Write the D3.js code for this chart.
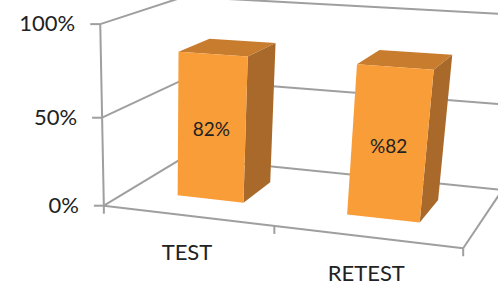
<!DOCTYPE html>
<html>
<head>
<meta charset="utf-8">
<script src="https://cdn.jsdelivr.net/npm/d3@7"></script>
<style>
  body { margin: 0; background: #fff; }
  svg text { font-family: Lato, "Open Sans", sans-serif; fill: #222; }
</style>
</head>
<body>
<div id="chart"></div>
<script>
var categories = ["TEST", "RETEST"];
var values = [82, 82];
var valueLabels = ["82%", "%82"];
var yTicks = [0, 50, 100];
var yTickLabels = ["0%", "50%", "100%"];

var width = 498, height = 289;

// world space: u = category position (0..2), v = value (0..1), w = depth (0..1)
// anchors pin the corners of the 3D frame to the page, the projection is fitted from them
var frameAnchors = [
  [[0, 0, 0], [104.7, 204.5]],
  [[0, 0.5, 0], [101.3, 117.3]],
  [[0, 1, 0], [99.7, 25]],
  [[1, 0, 0], [274.7, 226]],
  [[2, 0, 0], [463.3, 249]],
  [[0, 0, 1], [182, 159.6]],
  [[0, 0.5, 1], [185.4, 77.6]],
  [[0, 1, 1], [184.6, -3.1]],
  [[2, 0, 1], [502, 189.3]]
];

var barDepth = [0.3, 0.7];

function fitProjection(pts) {
  var cx = 250, cy = 125, s = 200;
  var rows = [], rhs = [];
  pts.forEach(function(p) {
    var X = p[0][0], Y = p[0][1], Z = p[0][2];
    var x = (p[1][0] - cx) / s, y = (p[1][1] - cy) / s;
    rows.push([X, Y, Z, 1, 0, 0, 0, 0, -x * X, -x * Y, -x * Z]); rhs.push(x);
    rows.push([0, 0, 0, 0, X, Y, Z, 1, -y * X, -y * Y, -y * Z]); rhs.push(y);
  });
  var n = 11, A = [], b = [];
  for (var i = 0; i < n; i++) {
    A.push([]);
    b.push(0);
    for (var j = 0; j < n; j++) {
      var sum = 0;
      for (var k = 0; k < rows.length; k++) sum += rows[k][i] * rows[k][j];
      A[i].push(sum);
    }
    for (var k = 0; k < rows.length; k++) b[i] += rows[k][i] * rhs[k];
  }
  // gaussian elimination
  for (var c = 0; c < n; c++) {
    var piv = c;
    for (var r = c + 1; r < n; r++) if (Math.abs(A[r][c]) > Math.abs(A[piv][c])) piv = r;
    var t = A[c]; A[c] = A[piv]; A[piv] = t;
    var tb = b[c]; b[c] = b[piv]; b[piv] = tb;
    for (var r = c + 1; r < n; r++) {
      var f = A[r][c] / A[c][c];
      for (var j = c; j < n; j++) A[r][j] -= f * A[c][j];
      b[r] -= f * b[c];
    }
  }
  var m = new Array(n);
  for (var r = n - 1; r >= 0; r--) {
    var sum = b[r];
    for (var j = r + 1; j < n; j++) sum -= A[r][j] * m[j];
    m[r] = sum / A[r][r];
  }
  return function(u, v, w) {
    var d = m[8] * u + m[9] * v + m[10] * w + 1;
    return [cx + s * (m[0] * u + m[1] * v + m[2] * w + m[3]) / d,
            cy + s * (m[4] * u + m[5] * v + m[6] * w + m[7]) / d];
  };
}

var project = fitProjection(frameAnchors);

var xScale = d3.scaleBand()
  .domain(categories)
  .range([0, 2])
  .paddingInner(0.6)
  .paddingOuter(0.3);

var yScale = d3.scaleLinear()
  .domain([0, 100])
  .range([0, 1]);

var uMax = 2;

var svg = d3.select("#chart").append("svg")
  .attr("width", width)
  .attr("height", height);

var line = d3.line();

function seg(a, b) {
  return line([project(a[0], a[1], a[2]), project(b[0], b[1], b[2])]);
}

var grid = svg.append("g")
  .attr("fill", "none")
  .attr("stroke", "#9f9f9f")
  .attr("stroke-width", 2);

// side wall and back wall gridlines
yTicks.forEach(function(t) {
  var v = yScale(t);
  grid.append("path").attr("d", seg([0, v, 0], [0, v, 1]));
  grid.append("path").attr("d", seg([0, v, 1], [uMax, v, 1]));
});

// floor front and right edges
grid.append("path").attr("d", seg([0, 0, 0], [uMax, 0, 0]));
grid.append("path").attr("d", seg([uMax, 0, 0], [uMax, 0, 1]));

// value axis
grid.append("path").attr("d", seg([0, 0, 0], [0, 1, 0]));
yTicks.forEach(function(t) {
  var p = project(0, yScale(t), 0);
  grid.append("path").attr("d", line([[p[0] - 10, p[1]], p]));
});

// category ticks
d3.range(categories.length + 1).forEach(function(i) {
  var p = project(i * xScale.step(), 0, 0);
  grid.append("path").attr("d", line([p, [p[0], p[1] + 8]]));
});

// value axis labels
svg.append("g").selectAll("text")
  .data(yTicks)
  .enter().append("text")
  .attr("x", function(d) { return project(0, yScale(d), 0)[0] - 25; })
  .attr("y", function(d) { return project(0, yScale(d), 0)[1] + 1.5; })
  .attr("text-anchor", "end")
  .attr("dominant-baseline", "middle")
  .attr("font-size", 22)
  .text(function(d, i) { return yTickLabels[i]; });

// category labels
svg.append("g").selectAll("text")
  .data(categories)
  .enter().append("text")
  .attr("x", function(d) { return project(xScale(d) + xScale.bandwidth() / 2, 0, 0)[0]; })
  .attr("y", function(d) { return project(xScale(d) + xScale.bandwidth() / 2, 0, 0)[1] + 39; })
  .attr("text-anchor", "middle")
  .attr("dominant-baseline", "middle")
  .attr("font-size", 22)
  .text(function(d) { return d; });

// bars
function poly(pts) {
  return line(pts.map(function(p) { return project(p[0], p[1], p[2]); })) + "Z";
}

var bars = svg.append("g").selectAll("g")
  .data(categories)
  .enter().append("g");

bars.each(function(d, i) {
  var g = d3.select(this);
  var u0 = xScale(d), u1 = u0 + xScale.bandwidth();
  var v1 = yScale(values[i]);
  var w0 = barDepth[0], w1 = barDepth[1];

  g.append("path")
    .attr("fill", "#a8692a")
    .attr("d", poly([[u1, 0, w0], [u1, 0, w1], [u1, v1, w1], [u1, v1, w0]]));
  g.append("path")
    .attr("fill", "#c87c2e")
    .attr("d", poly([[u0, v1, w0], [u1, v1, w0], [u1, v1, w1], [u0, v1, w1]]));
  g.append("path")
    .attr("fill", "#f99d39")
    .attr("d", poly([[u0, 0, w0], [u1, 0, w0], [u1, v1, w0], [u0, v1, w0]]));

  var lp = project((u0 + u1) / 2, v1 * 0.48, w0);
  g.append("text")
    .attr("x", lp[0])
    .attr("y", lp[1])
    .attr("text-anchor", "middle")
    .attr("dominant-baseline", "middle")
    .attr("font-size", 19)
    .text(valueLabels[i]);
});
</script>
</body>
</html>
